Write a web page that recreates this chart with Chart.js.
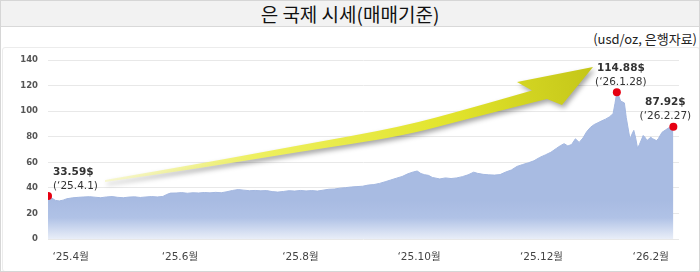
<!DOCTYPE html>
<html>
<head>
<meta charset="utf-8">
<script src="https://cdn.jsdelivr.net/npm/chart.js@4.4.1/dist/chart.umd.min.js"></script>
<style>
  html, body { margin: 0; padding: 0; background: #fff; }
  #page { position: relative; width: 700px; height: 272px; overflow: hidden; box-sizing: border-box; border: 1px solid #d6d6d6; }
  #title { position: absolute; left: 0; top: 0; width: 698px; height: 25px; background: #f2f2f2; border-bottom: 1px solid #d9d9d9;
           font-family: "Noto Sans CJK KR", sans-serif; font-size: 19px; line-height: 25px; text-align: center; color: #111; }
  #unit { position: absolute; right: 2px; top: 29px; font-family: "Noto Sans CJK KR", sans-serif; font-size: 13px; line-height: 18px; color: #222; }
  #panel { position: absolute; left: 1px; top: 46px; width: 696px; height: 223px; border: 1px solid #ececec; border-radius: 3px; }
  #wrap { position: absolute; left: 0; top: 44px; width: 700px; height: 228px; }
</style>
</head>
<body>
<div id="page">
  <div id="title">은 국제 시세(매매기준)</div>
  <div id="unit">(usd/oz, 은행자료)</div>
  <div id="panel"></div>
  <div id="wrap"><canvas id="silver"></canvas></div>
</div>
<script>
// days counted from 2025-04-01
var days = [0, 2, 4, 6, 8, 10, 13, 16, 19, 22, 25, 28, 31, 34, 37, 40, 43, 46, 49, 52, 55, 58, 61, 63, 65, 68,
  71, 74, 77, 80, 83, 86, 89, 92, 95, 98, 101, 104, 107, 110, 113, 116, 119, 122, 125, 128, 131, 134, 137, 140,
  143, 146, 149, 152, 155, 158, 161, 164, 167, 170, 173, 176, 179, 182, 185, 188, 191, 194, 196, 198, 200, 202,
  204, 206, 208, 211, 214, 217, 220, 223, 226, 228, 231, 234, 237, 240, 243, 246, 249, 252, 255, 258, 261, 264,
  267, 270, 272, 274, 276, 278, 280, 282, 284, 286, 288, 290, 292, 294, 296, 298, 300, 301, 302, 303, 304, 306,
  307, 309, 310, 311, 312, 313, 314, 316, 317, 318, 320, 321, 323, 324, 326, 328, 330, 331, 332];
var prices = [33.59, 32.0, 30.2, 29.8, 30.4, 31.5, 32.2, 32.6, 32.9, 33.1, 32.7, 32.3, 32.9, 33.2, 32.6, 32.3, 32.8, 33.0, 32.5, 32.9, 33.2, 32.9, 33.3, 34.8, 35.9, 36.0,
  36.3, 35.8, 36.2, 36.0, 36.4, 36.1, 36.5, 36.2, 37.0, 38.0, 38.7, 38.2, 37.8, 38.0, 37.7, 37.9, 37.1, 36.7, 37.2, 37.8, 37.5, 38.0, 37.6, 37.9,
  37.5, 38.2, 38.9, 39.1, 39.8, 40.2, 40.7, 41.0, 41.3, 42.2, 42.6, 43.5, 44.8, 46.2, 47.6, 48.9, 51.0, 52.5, 53.2, 51.2, 50.3, 49.8,
  48.2, 47.6, 47.0, 47.8, 47.3, 47.8, 48.8, 50.2, 52.3, 51.4, 50.6, 50.2, 50.0, 50.4, 52.4, 54.0, 56.8, 58.3, 59.6, 61.2, 63.8, 65.8,
  67.9, 71.0, 73.0, 74.6, 72.8, 74.0, 78.4, 75.6, 79.0, 84.0, 87.4, 89.6, 91.0, 92.5, 93.8, 95.5, 98.0, 106.0, 114.88, 112.0, 108.0, 106.5,
  95.0, 78.0, 82.0, 85.0, 79.0, 71.0, 74.0, 81.0, 79.5, 77.0, 79.6, 78.5, 77.0, 78.5, 83.5, 85.5, 87.4, 88.5, 87.92];

var tickDays = [12, 70, 134, 197, 262, 320];
var tickLabels = ['‘25.4월', '‘25.6월', '‘25.8월', '‘25.10월', '‘25.12월', '‘26.2월'];
var yTicks = [0, 20, 40, 60, 80, 100, 120, 140];

// highlighted points: start, peak, last
var markIdx = [0, prices.indexOf(114.88), prices.length - 1];
var markValue = ['33.59$', '114.88$', '87.92$'];
var markDate = ['(‘25.4.1)', '(‘26.1.28)', '(‘26.2.27)'];

var points = days.map(function (d, i) { return { x: d, y: prices[i] }; });

// smooth path through a list of points
function curveThrough(ctx, pts) {
  for (var i = 1; i < pts.length - 1; i++) {
    var mx = (pts[i][0] + pts[i + 1][0]) / 2, my = (pts[i][1] + pts[i + 1][1]) / 2;
    ctx.quadraticCurveTo(pts[i][0], pts[i][1], mx, my);
  }
  var l = pts[pts.length - 1];
  ctx.lineTo(l[0], l[1]);
}

// the big yellow arrow (page decoration, canvas px)
function drawArrow(ctx) {
  var up = [[104,135],[200,118.5],[300,100],[400,82],[470,63],[531,45.5]];
  var lo = [[546,54],[470,73],[400,91.5],[300,106.5],[200,123],[104,137]];
  ctx.save();
  ctx.beginPath();
  ctx.moveTo(up[0][0], up[0][1]);
  curveThrough(ctx, up);
  ctx.lineTo(516, 37);
  ctx.lineTo(592, 22);
  ctx.lineTo(561, 60);
  ctx.lineTo(lo[0][0], lo[0][1]);
  curveThrough(ctx, lo);
  ctx.closePath();
  var g = ctx.createLinearGradient(104, 136, 592, 22);
  g.addColorStop(0, 'rgba(246,246,190,0.7)');
  g.addColorStop(0.3, '#eef060');
  g.addColorStop(0.7, '#e2e42c');
  g.addColorStop(1, '#c4c618');
  ctx.shadowColor = 'rgba(0,0,0,0.35)';
  ctx.shadowBlur = 5;
  ctx.shadowOffsetX = 2;
  ctx.shadowOffsetY = 3;
  ctx.fillStyle = g;
  ctx.fill();
  ctx.restore();
}

var decor = {
  id: 'decor',
  afterDatasetsDraw: function (chart) {
    var ctx = chart.ctx;
    drawArrow(ctx);
    var meta = chart.getDatasetMeta(0);
    var offs = [[5, 'left'], [4, 'center'], [-8, 'center']];
    ctx.save();
    ctx.fillStyle = '#333';
    ctx.textBaseline = 'middle';
    markIdx.forEach(function (idx, k) {
      var p = meta.data[idx];
      ctx.textAlign = offs[k][1];
      ctx.font = 'bold 10.5px "DejaVu Sans"';
      ctx.fillText(markValue[k], p.x + offs[k][0], p.y - 24);
      ctx.font = '10.5px "DejaVu Sans"';
      ctx.fillText(markDate[k], p.x + offs[k][0], p.y - 10);
    });
    ctx.restore();
  }
};

var ctx = document.getElementById('silver').getContext('2d');
new Chart(ctx, {
  type: 'line',
  data: {
    datasets: [{
      data: points,
      borderColor: '#a3b7e0',
      borderWidth: 1,
      tension: 0,
      fill: 'origin',
      backgroundColor: function (c) {
        var area = c.chart.chartArea;
        if (!area) return '#a9bce3';
        var y = c.chart.scales.y;
        var g = c.chart.ctx.createLinearGradient(0, y.getPixelForValue(30), 0, area.bottom);
        g.addColorStop(0, '#a8bbe2');
        g.addColorStop(0.45, '#b0c2e6');
        g.addColorStop(1, '#e9eef8');
        return g;
      },
      pointRadius: function (c) { return markIdx.indexOf(c.dataIndex) >= 0 ? 4 : 0; },
      pointBackgroundColor: '#e60012',
      pointBorderWidth: 0
    }]
  },
  options: {
    responsive: true,
    maintainAspectRatio: false,
    animation: false,
    layout: { padding: { left: 0, top: 11, right: 22, bottom: 6 } },
    plugins: { legend: { display: false }, tooltip: { enabled: false } },
    scales: {
      x: {
        type: 'linear',
        min: 0,
        max: 335,
        grid: { display: false },
        border: { display: false },
        afterFit: function (s) { s.height = 28; },
        afterBuildTicks: function (s) { s.ticks = tickDays.map(function (v) { return { value: v }; }); },
        ticks: {
          autoSkip: false,
          maxRotation: 0,
          padding: 4,
          color: '#444',
          font: { family: '"DejaVu Sans", "Noto Sans CJK KR"', size: 10.5 },
          callback: function (v) { return tickLabels[tickDays.indexOf(v)]; }
        }
      },
      y: {
        min: 0,
        max: 140,
        afterFit: function (s) { s.width = 47; },
        afterBuildTicks: function (s) { s.ticks = yTicks.map(function (v) { return { value: v }; }); },
        grid: { color: '#e8e8e8', drawTicks: false },
        border: { display: false },
        ticks: {
          padding: 10,
          color: '#555',
          font: { family: '"DejaVu Sans"', size: 8.5, weight: 'bold' }
        }
      }
    }
  },
  plugins: [decor]
});
</script>
</body>
</html>
